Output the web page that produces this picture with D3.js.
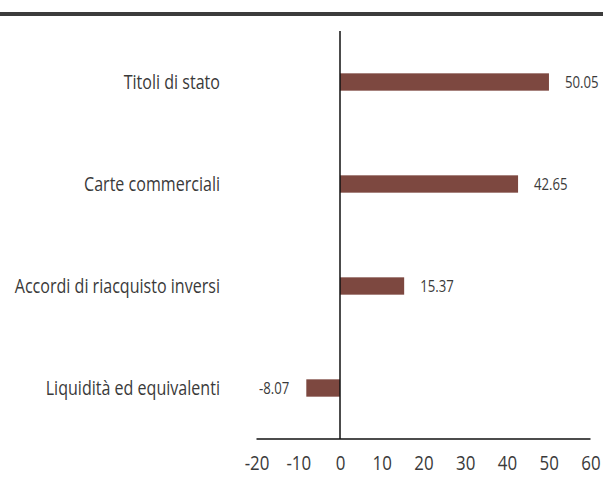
<!DOCTYPE html>
<html><head><meta charset="utf-8">
<script src="https://cdn.jsdelivr.net/npm/d3@7"></script>
<style>body{margin:0;background:#fff;} svg{display:block;}</style>
</head><body>
<svg id="chart" width="603" height="477"></svg>
<script>
const categories = ["Titoli di stato", "Carte commerciali", "Accordi di riacquisto inversi", "Liquidità ed equivalenti"];
const values = [50.05, 42.65, 15.37, -8.07];
const valueLabels = ["50.05", "42.65", "15.37", "-8.07"];
const tickValues = [-20, -10, 0, 10, 20, 30, 40, 50, 60];

const svg = d3.select("#chart");
const font = "'Open Sans', 'Liberation Sans', sans-serif";
const textColor = "#3a3a3a";

// horizontal condensing factor for the narrow typeface of the reference
let squeeze = 0.8;
{
  const t = svg.append("text").attr("font-family", font).attr("font-size", 19.5).text("Carte commerciali");
  const w = t.node().getComputedTextLength();
  if (w > 0) squeeze = 136 / w;
  t.remove();
}
function place(sel, xf, yf) {
  sel.attr("x", 0).attr("y", 0)
     .attr("transform", (d, i) => `translate(${xf(d, i)},${yf(d, i)}) scale(${squeeze},1)`);
}

// top rule
svg.append("rect").attr("x", 0).attr("y", 12).attr("width", 603).attr("height", 4).attr("fill", "#3c3c3c");

const x = d3.scaleLinear().domain([-20, 60]).range([256.5, 590.5]);
const y = d3.scaleBand().domain(categories).range([31, 439]).paddingInner(0.83).paddingOuter(0.415);

const g = svg.append("g");

g.selectAll("rect.bar").data(values).join("rect")
  .attr("class", "bar")
  .attr("x", d => x(Math.min(0, d)))
  .attr("width", d => Math.abs(x(d) - x(0)))
  .attr("y", (d, i) => y(categories[i]))
  .attr("height", y.bandwidth())
  .attr("fill", "#7d4840");

// value labels
g.selectAll("text.val").data(values).join("text")
  .attr("class", "val")
  .attr("dy", "0.35em")
  .attr("text-anchor", d => d >= 0 ? "start" : "end")
  .attr("font-family", font)
  .attr("font-size", 16)
  .attr("fill", textColor)
  .text((d, i) => valueLabels[i])
  .call(place, d => d >= 0 ? x(d) + 16 : x(d) - 17, (d, i) => y(categories[i]) + y.bandwidth() / 2);

// category labels
g.selectAll("text.cat").data(categories).join("text")
  .attr("class", "cat")
  .attr("dy", "0.35em")
  .attr("text-anchor", "end")
  .attr("font-family", font)
  .attr("font-size", 19.5)
  .attr("fill", textColor)
  .text(d => d)
  .call(place, () => 220, d => y(d) + y.bandwidth() / 2);

// x axis
const xAxis = d3.axisBottom(x).tickValues(tickValues).tickSize(0).tickPadding(0).tickFormat(d => String(d));
const ax = svg.append("g").attr("transform", "translate(0,439)").call(xAxis);
ax.select(".domain").attr("stroke", "#111").attr("stroke-width", 1.5).attr("d", `M${x(-20)},0H${x(60)}`);
ax.selectAll(".tick text")
  .attr("font-family", font).attr("font-size", 20.5).attr("fill", textColor)
  .attr("dy", null)
  .attr("y", 31.5)
  .attr("transform", `scale(${squeeze},1)`)
  .attr("x", 0);

// vertical zero line
svg.append("line").attr("x1", x(0)).attr("x2", x(0)).attr("y1", 31).attr("y2", 439)
  .attr("stroke", "#111").attr("stroke-width", 1.5);
</script>
</body></html>
